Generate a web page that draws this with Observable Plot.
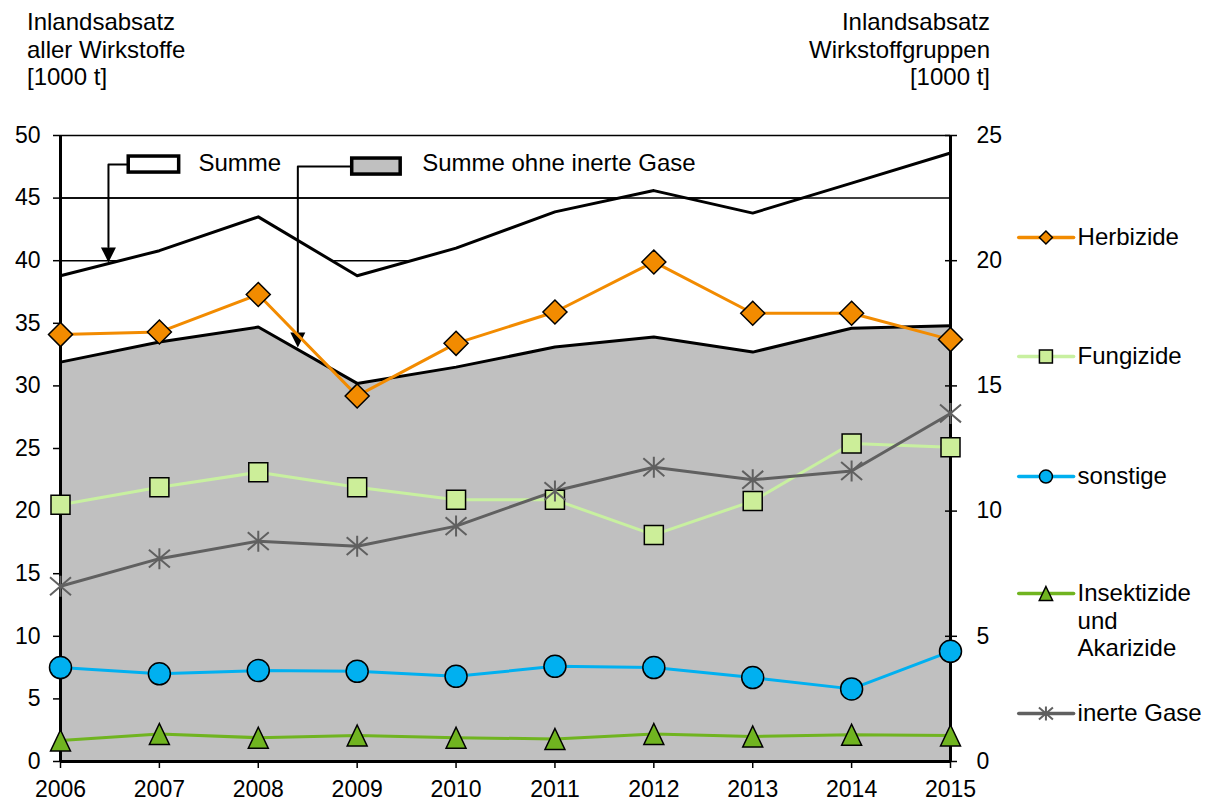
<!DOCTYPE html>
<html><head><meta charset="utf-8">
<script src="https://cdn.jsdelivr.net/npm/d3@7"></script>
<script src="https://cdn.jsdelivr.net/npm/@observablehq/plot@0.6"></script>
<style>
body{margin:0;background:#fff;}
#wrap{position:relative;width:1208px;height:800px;font-family:"Liberation Sans",Arial,sans-serif;}
#wrap svg{display:block;}
.t{position:absolute;font-size:24px;line-height:27.5px;color:#000;white-space:nowrap;}
</style></head><body>
<div id="wrap">
<div class="t" style="left:27px;top:8px">Inlandsabsatz<br>aller Wirkstoffe<br>[1000 t]</div>
<div class="t" style="right:218px;top:8px;text-align:right">Inlandsabsatz<br>Wirkstoffgruppen<br>[1000 t]</div>
</div>
<script>
// ---- data ----
const years = [2006, 2007, 2008, 2009, 2010, 2011, 2012, 2013, 2014, 2015];
// left axis (Inlandsabsatz aller Wirkstoffe, 1000 t)
const summe = [38.8, 40.8, 43.5, 38.8, 41.0, 43.9, 45.6, 43.8, 46.2, 48.6];
const summeOhneGase = [31.9, 33.5, 34.7, 30.2, 31.5, 33.1, 33.9, 32.7, 34.6, 34.8];
// right axis (Wirkstoffgruppen, 1000 t)
const herbizide = [17.05, 17.15, 18.65, 14.6, 16.7, 17.95, 19.95, 17.9, 17.9, 16.85];
const fungizide = [10.25, 10.95, 11.55, 10.95, 10.45, 10.45, 9.05, 10.4, 12.7, 12.55];
const sonstige = [3.75, 3.5, 3.63, 3.6, 3.4, 3.8, 3.75, 3.35, 2.9, 4.4];
const insektizide = [0.84, 1.1, 0.95, 1.04, 0.95, 0.9, 1.1, 1.0, 1.07, 1.04];
const inerteGase = [7.0, 8.1, 8.8, 8.6, 9.4, 10.8, 11.75, 11.25, 11.6, 13.9];
const leftTicks = [0, 5, 10, 15, 20, 25, 30, 35, 40, 45, 50];
const rightTicks = [0, 5, 10, 15, 20, 25];
const seriesNames = ["Herbizide", "Fungizide", "sonstige", "Insektizide\nund\nAkarizide", "inerte Gase"];
const annotationLabels = ["Summe", "Summe ohne inerte Gase"];

const RATIO = 50 / 25; // left axis units per right axis unit

// ---- symbols ----
const sym = f => ({draw(c, size) { const r = Math.sqrt(size / Math.PI); f(c, r); }});
const diamond = sym((c, r) => { c.moveTo(0, -r); c.lineTo(r, 0); c.lineTo(0, r); c.lineTo(-r, 0); c.closePath(); });
const square = sym((c, r) => { c.moveTo(-r, -r); c.lineTo(r, -r); c.lineTo(r, r); c.lineTo(-r, r); c.closePath(); });
const triangle = sym((c, r) => { c.moveTo(0, -r); c.lineTo(r * 0.95, r); c.lineTo(-r * 0.95, r); c.closePath(); });
const asterisk = sym((c, r) => { c.moveTo(0, -r); c.lineTo(0, r); c.moveTo(-r, -0.85 * r); c.lineTo(r, 0.85 * r); c.moveTo(-r, 0.85 * r); c.lineTo(r, -0.85 * r); });
const arrowHead = sym((c, r) => { c.moveTo(0, 0); c.lineTo(-r / 2, -r); c.lineTo(r / 2, -r); c.closePath(); });

const groups = [
  {name: seriesNames[0], values: herbizide, line: "#F28B00", fill: "#F28B00", mstroke: "#000", symbol: diamond, r: 12, lr: 6.5, sw: 1.5},
  {name: seriesNames[1], values: fungizide, line: "#C8F0A0", fill: "#CCEE99", mstroke: "#000", symbol: square, r: 9.5, lr: 6.5, sw: 1.5},
  {name: seriesNames[2], values: sonstige, line: "#00B0F0", fill: "#00B0F0", mstroke: "#000", symbol: "circle", r: 11, lr: 6.5, sw: 1.5},
  {name: seriesNames[3], values: insektizide, line: "#70B420", fill: "#70B420", mstroke: "#000", symbol: triangle, r: 10.5, lr: 7, sw: 1.5},
  {name: seriesNames[4], values: inerteGase, line: "#606060", fill: "none", mstroke: "#606060", symbol: asterisk, r: 10.5, lr: 7, sw: 2}
];
const rowsOf = g => years.map((year, i) => ({year, v: g.values[i]}));
const totals = years.map((year, i) => ({year, summe: summe[i], ohne: summeOhneGase[i]}));

// ---- layout of annotations & legend (in data units) ----
const notes = [
  {label: annotationLabels[0], fill: "#fff", box: [2006.69, 2007.20, 47.04, 48.32],
   path: [[2006.69, 47.68], [2006.485, 47.68], [2006.485, 41.1]], tip: [2006.485, 39.86], tx: 2007.395, ty: 47.76},
  {label: annotationLabels[1], fill: "#C0C0C0", box: [2008.95, 2009.44, 46.88, 48.16],
   path: [[2008.95, 47.52], [2008.40, 47.52], [2008.40, 34.3]], tip: [2008.40, 33.07], tx: 2009.657, ty: 47.76}
];
const notePaths = notes.flatMap((n, k) => n.path.map(p => ({k, x: p[0], y: p[1]})));
const legendX = {a: 2015.69, b: 2016.245, m: 2015.965, t: 2016.285};
const legendY = [41.85, 32.35, 22.76, 13.42, 3.83];
const legendRows = groups.map((g, i) => ({...g, y: legendY[i]}));
const legendLines = legendRows.flatMap((g, i) => [{i, x: legendX.a, y: g.y, c: g.line}, {i, x: legendX.b, y: g.y, c: g.line}]);

const marks = [
  Plot.ruleY(leftTicks.filter(d => d > 0), {y: d => d, stroke: "#000", strokeWidth: 1.5}),
  Plot.areaY(totals, {x: "year", y: "summe", fill: "#fff"}),
  Plot.areaY(totals, {x: "year", y: "ohne", fill: "#C0C0C0"}),
  Plot.ruleY([45], {stroke: "#000", strokeWidth: 1.5}),
  Plot.lineY(totals, {x: "year", y: "summe", stroke: "#000", strokeWidth: 3}),
  Plot.lineY(totals, {x: "year", y: "ohne", stroke: "#000", strokeWidth: 3}),
  // annotations
  Plot.line(notePaths, {x: "x", y: "y", z: "k", stroke: "#000", strokeWidth: 2}),
  Plot.dot(notes, {x: d => d.tip[0], y: d => d.tip[1], symbol: arrowHead, r: 15, fill: "#000", stroke: "none"}),
  Plot.rect(notes, {x1: d => d.box[0], x2: d => d.box[1], y1: d => d.box[2], y2: d => d.box[3], fill: d => d.fill, stroke: "#000", strokeWidth: 3.5}),
  Plot.text(notes, {x: "tx", y: "ty", text: "label", textAnchor: "start", fontSize: 24, fill: "#000"}),
  // frame
  Plot.ruleY([0], {stroke: "#000", strokeWidth: 3}),
  Plot.ruleX([years[0]], {stroke: "#000", strokeWidth: 3}),
  Plot.ruleX([years[years.length - 1]], {stroke: "#000", strokeWidth: 3}),
  Plot.axisY(leftTicks, {anchor: "left", tickSize: 7, tickPadding: 13, fontSize: 23, strokeWidth: 1.5, tickFormat: d => String(d), label: null}),
  Plot.axisY(rightTicks.map(d => d * RATIO), {anchor: "right", tickSize: 12, dx: -6, tickPadding: 20, fontSize: 23, strokeWidth: 1.5, tickFormat: d => String(d / RATIO), label: null}),
  Plot.axisX(years, {anchor: "bottom", tickSize: 7, tickPadding: 12, fontSize: 23, strokeWidth: 1.5, tickFormat: d => String(d), label: null}),
  // series
  ...groups.map(g => Plot.line(rowsOf(g), {x: "year", y: d => d.v * RATIO, stroke: g.line, strokeWidth: 3})),
  ...groups.map(g => Plot.dot(rowsOf(g), {x: "year", y: d => d.v * RATIO, symbol: g.symbol, r: g.r, fill: g.fill, stroke: g.mstroke, strokeWidth: g.sw})),
  // legend
  Plot.line(legendLines, {x: "x", y: "y", z: "i", stroke: "c", strokeWidth: 3.5}),
  ...legendRows.map(g => Plot.dot([g], {x: () => legendX.m, y: "y", symbol: g.symbol, r: g.lr, fill: g.fill, stroke: g.mstroke, strokeWidth: g.sw})),
  Plot.text(legendRows, {x: () => legendX.t, y: "y", text: "name", textAnchor: "start", lineAnchor: "top", dy: -12, lineHeight: 1.15, fontSize: 24, fill: "#000"})
];

const chart = Plot.plot({
  width: 1208,
  height: 800,
  marginLeft: 60,
  marginRight: 258,
  marginTop: 135,
  marginBottom: 39,
  x: {type: "linear", domain: [years[0], years[years.length - 1]]},
  y: {type: "linear", domain: [0, 50]},
  style: {fontFamily: '"Liberation Sans", Arial, sans-serif', fontSize: "23px", color: "#000", background: "#fff", overflow: "visible"},
  marks
});
document.getElementById("wrap").prepend(chart);
</script>
</body></html>
